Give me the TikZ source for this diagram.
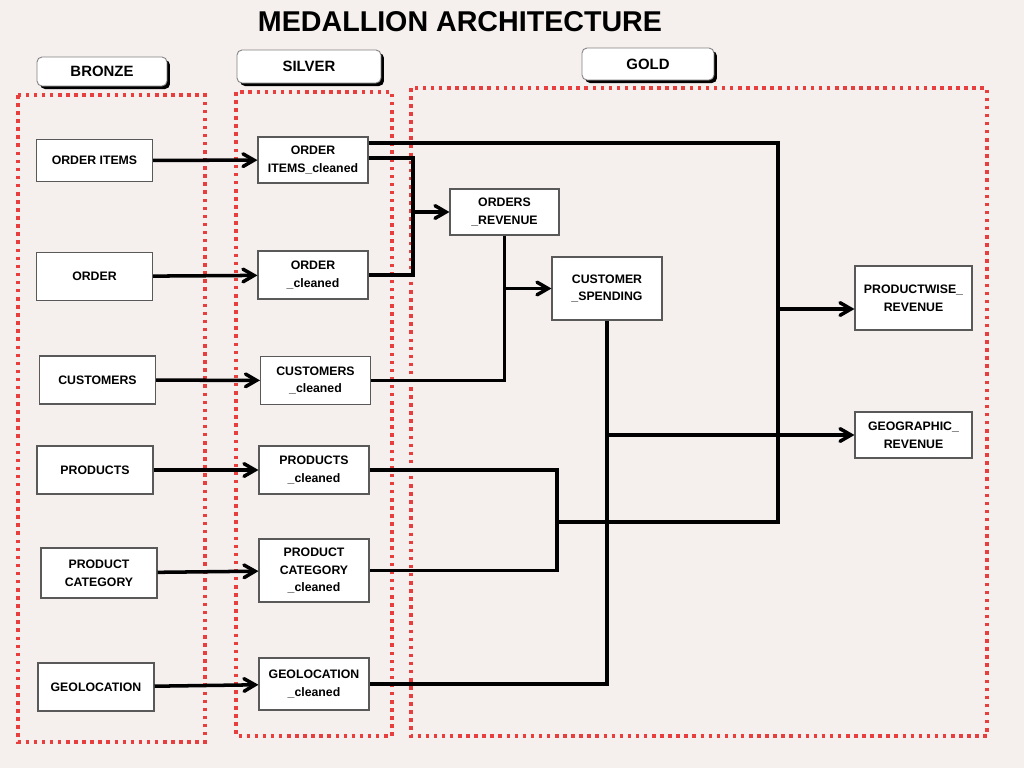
\documentclass[tikz,border=0pt]{standalone}
\usepackage{fontspec}
\setmainfont{Liberation Sans}
\usetikzlibrary{arrows,shadows}
\definecolor{paper}{RGB}{245,240,238}
\definecolor{dotred}{RGB}{232,62,62}

\begin{document}
\begin{tikzpicture}[x=0.02cm,y=-0.02cm,>=angle 60,line width=2pt,
  table node/.style={rectangle,fill=white,draw=black!65,line width=0.6pt,align=center,inner sep=1pt,font=\fontsize{7}{10}\selectfont\bfseries},
  bronze node/.style={table node,minimum width=2.32cm,minimum height=0.96cm},
  silver node/.style={table node,minimum width=2.2cm,minimum height=0.96cm},
  layer node/.style={rectangle,rounded corners=0.1cm,fill=white,draw=black!50,line width=0.5pt,font=\fontsize{8.5}{10}\selectfont\bfseries,drop shadow={shadow xshift=0.06cm,shadow yshift=-0.06cm,fill=black,opacity=1}},
  layer frame/.style={draw=dotred,line width=2pt,dash pattern=on 2pt off 2.6pt}]
  \fill[paper] (0,0) rectangle (1024,768);
  \useasboundingbox (0,0) rectangle (1024,768);

  \node[font=\fontsize{16.3}{18}\selectfont\bfseries] (title) at (460,22) {MEDALLION ARCHITECTURE};

  % layer frames
  \draw[layer frame] (18,95) rectangle (205,742);
  \draw[layer frame] (236,92) rectangle (392,736);
  \draw[layer frame] (411,88) rectangle (987,736);

  \node[layer node,minimum width=2.6cm,minimum height=0.58cm] (bronze) at (102,71.5) {BRONZE};
  \node[layer node,minimum width=2.88cm,minimum height=0.66cm] (silver) at (309,66.5) {SILVER};
  \node[layer node,minimum width=2.64cm,minimum height=0.64cm] (gold) at (648,64) {GOLD};

  % bronze tables
  \node[bronze node,minimum height=0.84cm] (b1) at (94.5,160.5) {ORDER ITEMS};
  \node[bronze node] (b2) at (94.5,276.5) {ORDER};
  \node[bronze node] (b3) at (97.5,380) {CUSTOMERS};
  \node[bronze node] (b4) at (95,470) {PRODUCTS};
  \node[bronze node,minimum height=1cm] (b5) at (99,573) {PRODUCT\\CATEGORY};
  \node[bronze node] (b6) at (96,687) {GEOLOCATION};

  % silver tables
  \node[silver node,minimum height=0.92cm] (s1) at (313,160) {ORDER\\ITEMS\_cleaned};
  \node[silver node] (s2) at (313,275) {ORDER\\\_cleaned};
  \node[silver node] (s3) at (315.5,380.5) {CUSTOMERS\\\_cleaned};
  \node[silver node] (s4) at (314,470) {PRODUCTS\\\_cleaned};
  \node[silver node,minimum height=1.26cm] (s5) at (314,570.5) {PRODUCT\\CATEGORY\\\_cleaned};
  \node[silver node,minimum height=1.04cm] (s6) at (314,684) {GEOLOCATION\\\_cleaned};

  % gold tables
  \node[table node,minimum width=2.18cm,minimum height=0.92cm] (g1) at (504.5,212) {ORDERS\\\_REVENUE};
  \node[table node,minimum width=2.2cm,minimum height=1.26cm] (g2) at (607,288.5) {CUSTOMER\\\_SPENDING};
  \node[table node,minimum width=2.34cm,minimum height=1.28cm] (g3) at (913.5,298) {PRODUCTWISE\_\\REVENUE};
  \node[table node,minimum width=2.34cm,minimum height=0.92cm] (g4) at (913.5,435) {GEOGRAPHIC\_\\REVENUE};

  \path[->]
    (b1) edge (s1)
    (b2) edge (s2)
    (b3) edge (s3)
    (b4) edge (s4)
    (b5) edge (s5)
    (b6) edge (s6);

  % junctions
  \coordinate (topbus) at (778,143);
  \coordinate (prodbus) at (778,522);
  \coordinate (prodmid) at (557,522);
  \coordinate (ordbus) at (413,158);
  \coordinate (pwjoin) at (778,309);

  \draw (s1.north east |- topbus) -- (topbus) -- (prodbus) -- (prodmid);
  \draw (s4.east) -- (s4.east -| prodmid) -- (s5.east -| prodmid) -- (s5.east);
  \draw[->] (pwjoin) -- (pwjoin -| g3.west);

  \draw (s1.east |- ordbus) -- (ordbus) -- (s2.east -| ordbus) -- (s2.east);
  \draw[->] (g1.west -| ordbus) -- (g1.west);

  \draw (g1.south) -- (g1.south |- s3.east) -- (s3.east);
  \draw[->] (g1.south |- g2.west) -- (g2.west);

  \draw (g2.south) -- (g2.south |- s6.east) -- (s6.east);
  \draw[->] (g2.south |- g4.west) -- (g4.west);
\end{tikzpicture}
\end{document}
